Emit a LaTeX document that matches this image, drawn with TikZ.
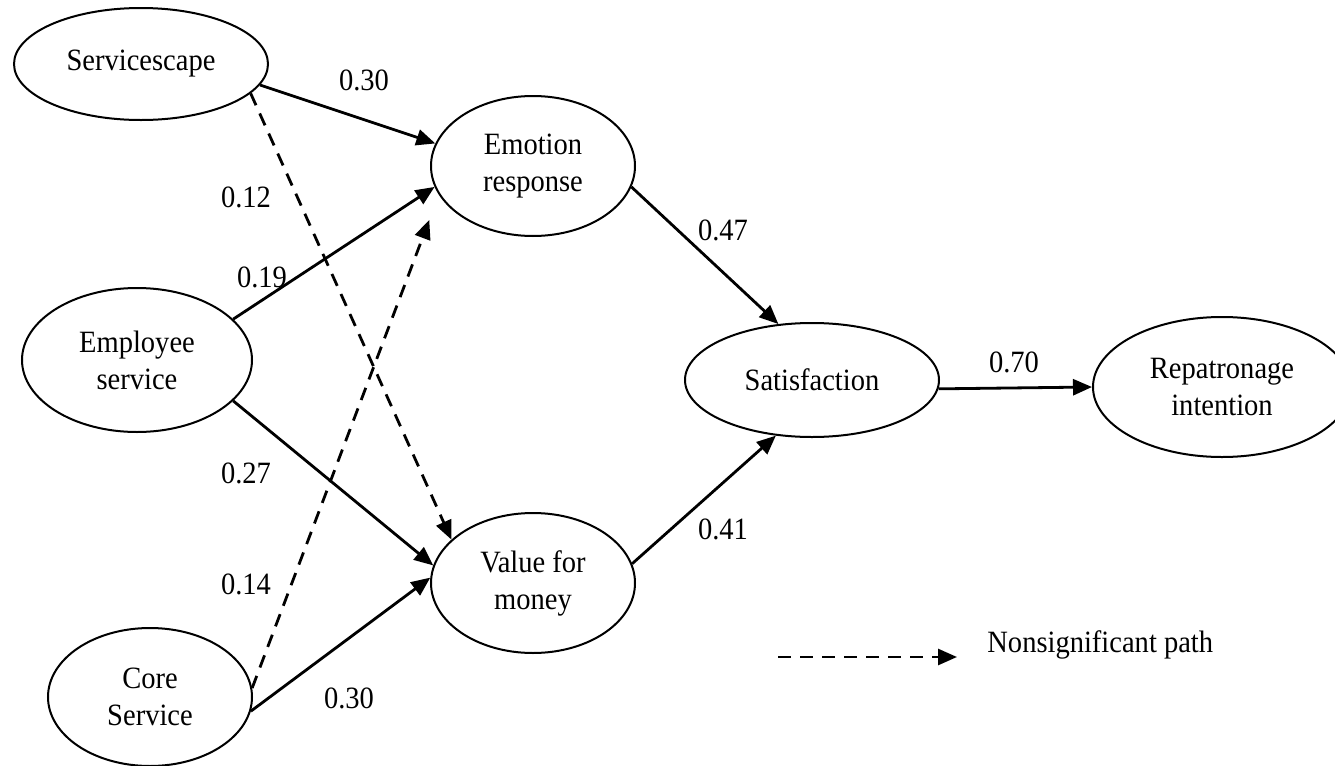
\documentclass[tikz,border=0pt]{standalone}
\usepackage{fontspec}
\setmainfont{Liberation Serif}[FakeStretch=0.92]
\usetikzlibrary{shapes.geometric, arrows.meta}

\tikzset{
  construct/.style={ellipse, draw, line width=1pt, inner sep=0pt, align=center,
    font=\fontsize{15.5}{18.5}\selectfont},
  sigpath/.style={line width=1.4pt, -{Triangle[length=9.5pt,width=8pt]}},
  nonsigpath/.style={sigpath, dash pattern=on 6.5pt off 4.5pt},
  coef/.style={anchor=base, inner sep=0pt, font=\fontsize{15.5}{18.5}\selectfont}
}

\begin{document}
\begin{tikzpicture}[x=0.5pt,y=-0.5pt]
  \useasboundingbox (0,0) rectangle (1335,766);

  \node [construct, minimum width=127pt, minimum height=56pt] (serv) at (141,64) {Servicescape};
  \node [construct, minimum width=115pt, minimum height=72pt] (emp) at (137,360) {Employee\\service};
  \node [construct, minimum width=102pt, minimum height=69pt] (core) at (150,697) {Core\\Service};
  \node [construct, minimum width=102pt, minimum height=70pt] (emo) at (533,166) {Emotion\\response};
  \node [construct, minimum width=102pt, minimum height=70pt] (val) at (533,583) {Value for\\money};
  \node [construct, minimum width=127pt, minimum height=57pt] (sat) at (812,380) {Satisfaction};
  \node [construct, minimum width=129pt, minimum height=70pt] (rep) at (1222,387) {Repatronage\\intention};

  \draw [sigpath] (serv.-10) -- (emo.167);
  \draw [nonsigpath] (serv.-15) -- (val.152);
  \draw [sigpath] (emp.23) -- (emo.192);
  \draw [sigpath] (emp.-23) -- (val.170);
  \draw [nonsigpath, shorten >=13.5pt] (core.5) -- (emo.197);
  \draw [sigpath] (core.-8) -- (val.177);
  \draw [sigpath] (emo.-12) -- (sat.121);
  \draw [sigpath] (val.11) -- (sat.237);
  \draw [sigpath] (sat.-4) -- (rep.west);

  \node [coef] (b-serv-emo) at (364,90) {0.30};
  \node [coef] (b-serv-val) at (246,207) {0.12};
  \node [coef] (b-emp-emo) at (262,287) {0.19};
  \node [coef] (b-emp-val) at (246,483) {0.27};
  \node [coef] (b-core-emo) at (246,594) {0.14};
  \node [coef] (b-core-val) at (349,708) {0.30};
  \node [coef] (b-emo-sat) at (723,240) {0.47};
  \node [coef] (b-val-sat) at (723,539) {0.41};
  \node [coef] (b-sat-rep) at (1014,372) {0.70};

  \coordinate (legA) at (778,657);
  \coordinate (legB) at (957,657);
  \draw [nonsigpath] (legA) -- (legB);
  \node [coef, anchor=base west] (legtext) at (987,652) {Nonsignificant path};
\end{tikzpicture}
\end{document}
